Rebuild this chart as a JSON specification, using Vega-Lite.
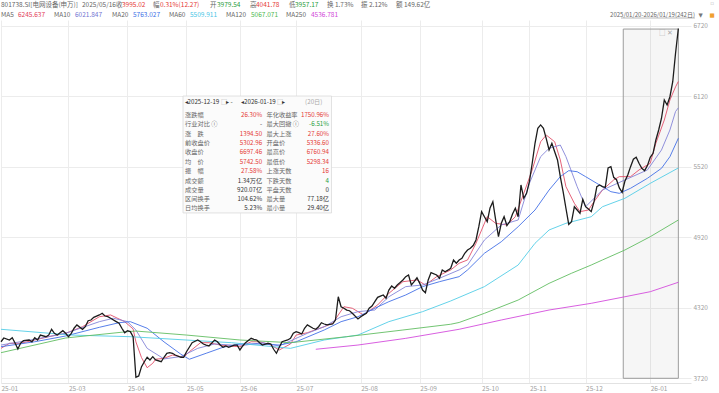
{
  "$schema": "https://vega.github.io/schema/vega-lite/v6.json",
  "width": 690,
  "height": 363,
  "autosize": {"type": "none"},
  "padding": {"left": 1, "top": 20, "right": 28, "bottom": 10},
  "background": "#ffffff",
  "config": {"view": {"stroke": null}, "font": "Noto Sans CJK SC"},
  "datasets": {
    "px": [
      {"d":0,"v":4031},{"d":1,"v":4063},{"d":3,"v":4046},{"d":4,"v":4065},{"d":5,"v":4020},{"d":6,"v":3969},{"d":7,"v":4020},{"d":8,"v":4040},{"d":10,"v":4046},{"d":11,"v":4031},{"d":12,"v":4065},{"d":13,"v":4046},{"d":14,"v":4088},{"d":16,"v":4074},{"d":17,"v":4088},{"d":18,"v":4137},{"d":19,"v":4103},{"d":20,"v":4088},{"d":22,"v":4125},{"d":23,"v":4103},{"d":24,"v":4074},{"d":25,"v":4103},{"d":26,"v":4146},{"d":27,"v":4174},{"d":29,"v":4137},{"d":30,"v":4159},{"d":31,"v":4210},{"d":32,"v":4216},{"d":33,"v":4239},{"d":35,"v":4259},{"d":36,"v":4273},{"d":37,"v":4250},{"d":38,"v":4244},{"d":39,"v":4231},{"d":41,"v":4202},{"d":42,"v":4188},{"d":43,"v":4146},{"d":44,"v":4108},{"d":45,"v":4125},{"d":46,"v":4117},{"d":47,"v":4074},{"d":48,"v":3729},{"d":49,"v":3740},{"d":50,"v":3819},{"d":51,"v":3861},{"d":52,"v":3899},{"d":53,"v":3876},{"d":54,"v":3904},{"d":55,"v":3876},{"d":57,"v":3861},{"d":58,"v":3899},{"d":59,"v":3933},{"d":60,"v":3938},{"d":61,"v":3933},{"d":62,"v":3918},{"d":64,"v":3899},{"d":65,"v":3899},{"d":66,"v":3946},{"d":67,"v":3984},{"d":68,"v":4023},{"d":70,"v":4046},{"d":71,"v":4031},{"d":72,"v":4012},{"d":73,"v":4003},{"d":74,"v":3995},{"d":76,"v":4046},{"d":77,"v":4031},{"d":78,"v":4003},{"d":79,"v":3984},{"d":80,"v":3995},{"d":81,"v":3984},{"d":83,"v":4003},{"d":84,"v":4003},{"d":85,"v":3961},{"d":86,"v":3995},{"d":87,"v":4023},{"d":89,"v":4060},{"d":90,"v":4052},{"d":91,"v":4046},{"d":92,"v":4023},{"d":93,"v":4003},{"d":95,"v":4018},{"d":96,"v":4012},{"d":97,"v":3967},{"d":98,"v":3933},{"d":99,"v":3984},{"d":100,"v":4031},{"d":102,"v":4046},{"d":103,"v":4060},{"d":104,"v":4103},{"d":105,"v":4117},{"d":106,"v":4108},{"d":107,"v":4097},{"d":108,"v":4146},{"d":109,"v":4174},{"d":111,"v":4146},{"d":112,"v":4137},{"d":113,"v":4159},{"d":114,"v":4193},{"d":115,"v":4182},{"d":116,"v":4174},{"d":118,"v":4182},{"d":119,"v":4216},{"d":120,"v":4414},{"d":121,"v":4329},{"d":122,"v":4316},{"d":123,"v":4301},{"d":124,"v":4295},{"d":125,"v":4273},{"d":127,"v":4225},{"d":128,"v":4244},{"d":129,"v":4260},{"d":130,"v":4273},{"d":131,"v":4316},{"d":132,"v":4335},{"d":133,"v":4372},{"d":134,"v":4409},{"d":135,"v":4420},{"d":136,"v":4429},{"d":137,"v":4401},{"d":138,"v":4471},{"d":139,"v":4505},{"d":140,"v":4486},{"d":141,"v":4514},{"d":142,"v":4535},{"d":143,"v":4557},{"d":144,"v":4585},{"d":145,"v":4599},{"d":146,"v":4514},{"d":147,"v":4542},{"d":148,"v":4575},{"d":149,"v":4528},{"d":150,"v":4471},{"d":151,"v":4448},{"d":152,"v":4557},{"d":153,"v":4620},{"d":155,"v":4599},{"d":156,"v":4571},{"d":157,"v":4642},{"d":158,"v":4627},{"d":159,"v":4640},{"d":160,"v":4656},{"d":161,"v":4727},{"d":162,"v":4699},{"d":163,"v":4727},{"d":164,"v":4741},{"d":165,"v":4784},{"d":166,"v":4812},{"d":167,"v":4826},{"d":168,"v":4850},{"d":169,"v":4897},{"d":170,"v":5010},{"d":171,"v":5138},{"d":172,"v":5095},{"d":173,"v":5053},{"d":174,"v":5170},{"d":175,"v":5223},{"d":176,"v":5068},{"d":177,"v":4925},{"d":178,"v":5039},{"d":179,"v":5095},{"d":180,"v":5020},{"d":181,"v":5053},{"d":182,"v":5118},{"d":183,"v":5167},{"d":184,"v":5095},{"d":185,"v":5365},{"d":186,"v":5252},{"d":187,"v":5294},{"d":188,"v":5393},{"d":189,"v":5550},{"d":190,"v":5720},{"d":191,"v":5848},{"d":192,"v":5876},{"d":193,"v":5848},{"d":194,"v":5760},{"d":195,"v":5663},{"d":196,"v":5720},{"d":197,"v":5648},{"d":198,"v":5578},{"d":199,"v":5436},{"d":200,"v":5308},{"d":201,"v":5167},{"d":202,"v":5030},{"d":203,"v":5053},{"d":204,"v":5180},{"d":205,"v":5152},{"d":206,"v":5124},{"d":207,"v":5243},{"d":208,"v":5180},{"d":209,"v":5160},{"d":210,"v":5138},{"d":211,"v":5223},{"d":212,"v":5351},{"d":213,"v":5365},{"d":214,"v":5351},{"d":215,"v":5345},{"d":216,"v":5510},{"d":217,"v":5521},{"d":218,"v":5430},{"d":219,"v":5410},{"d":220,"v":5340},{"d":221,"v":5303},{"d":222,"v":5400},{"d":223,"v":5450},{"d":224,"v":5521},{"d":225,"v":5584},{"d":226,"v":5601},{"d":227,"v":5550},{"d":228,"v":5507},{"d":229,"v":5487},{"d":230,"v":5530},{"d":231,"v":5600},{"d":232,"v":5635},{"d":233,"v":5748},{"d":234,"v":5833},{"d":235,"v":5933},{"d":236,"v":6088},{"d":237,"v":6046},{"d":238,"v":6116},{"d":239,"v":6244},{"d":240,"v":6486},{"d":241,"v":6697}
    ],
    "ma": [
      {"s":"MA5","d":0,"v":3975},{"s":"MA5","d":3,"v":4018},{"s":"MA5","d":7,"v":4018},{"s":"MA5","d":12,"v":4046},{"s":"MA5","d":17,"v":4074},{"s":"MA5","d":23,"v":4103},{"s":"MA5","d":29,"v":4159},{"s":"MA5","d":35,"v":4244},{"s":"MA5","d":39,"v":4259},{"s":"MA5","d":44,"v":4202},{"s":"MA5","d":47,"v":4140},{"s":"MA5","d":48,"v":4030},{"s":"MA5","d":50,"v":3896},{"s":"MA5","d":52,"v":3810},{"s":"MA5","d":54,"v":3848},{"s":"MA5","d":55,"v":3882},{"s":"MA5","d":58,"v":3890},{"s":"MA5","d":61,"v":3918},{"s":"MA5","d":65,"v":3899},{"s":"MA5","d":67,"v":3946},{"s":"MA5","d":71,"v":4023},{"s":"MA5","d":74,"v":4023},{"s":"MA5","d":78,"v":4003},{"s":"MA5","d":81,"v":3995},{"s":"MA5","d":85,"v":3989},{"s":"MA5","d":89,"v":4031},{"s":"MA5","d":92,"v":4031},{"s":"MA5","d":96,"v":4003},{"s":"MA5","d":99,"v":3961},{"s":"MA5","d":103,"v":4012},{"s":"MA5","d":105,"v":4088},{"s":"MA5","d":109,"v":4108},{"s":"MA5","d":115,"v":4159},{"s":"MA5","d":118,"v":4188},{"s":"MA5","d":122,"v":4329},{"s":"MA5","d":125,"v":4316},{"s":"MA5","d":129,"v":4259},{"s":"MA5","d":134,"v":4344},{"s":"MA5","d":138,"v":4443},{"s":"MA5","d":143,"v":4542},{"s":"MA5","d":148,"v":4557},{"s":"MA5","d":151,"v":4514},{"s":"MA5","d":155,"v":4585},{"s":"MA5","d":160,"v":4642},{"s":"MA5","d":163,"v":4699},{"s":"MA5","d":166,"v":4727},{"s":"MA5","d":169,"v":4869},{"s":"MA5","d":173,"v":5095},{"s":"MA5","d":176,"v":5039},{"s":"MA5","d":180,"v":5025},{"s":"MA5","d":183,"v":5095},{"s":"MA5","d":186,"v":5294},{"s":"MA5","d":189,"v":5493},{"s":"MA5","d":192,"v":5733},{"s":"MA5","d":194,"v":5790},{"s":"MA5","d":197,"v":5733},{"s":"MA5","d":199,"v":5578},{"s":"MA5","d":201,"v":5351},{"s":"MA5","d":204,"v":5209},{"s":"MA5","d":206,"v":5138},{"s":"MA5","d":209,"v":5152},{"s":"MA5","d":211,"v":5223},{"s":"MA5","d":214,"v":5322},{"s":"MA5","d":218,"v":5408},{"s":"MA5","d":220,"v":5436},{"s":"MA5","d":224,"v":5436},{"s":"MA5","d":227,"v":5493},{"s":"MA5","d":231,"v":5550},{"s":"MA5","d":233,"v":5720},{"s":"MA5","d":236,"v":5918},{"s":"MA5","d":238,"v":6088},{"s":"MA5","d":240,"v":6200},{"s":"MA5","d":241,"v":6246},
      {"s":"MA10","d":0,"v":4003},{"s":"MA10","d":12,"v":4052},{"s":"MA10","d":23,"v":4103},{"s":"MA10","d":35,"v":4202},{"s":"MA10","d":40,"v":4231},{"s":"MA10","d":45,"v":4202},{"s":"MA10","d":48,"v":4131},{"s":"MA10","d":52,"v":3975},{"s":"MA10","d":58,"v":3885},{"s":"MA10","d":64,"v":3905},{"s":"MA10","d":70,"v":3975},{"s":"MA10","d":76,"v":4012},{"s":"MA10","d":82,"v":4003},{"s":"MA10","d":87,"v":4003},{"s":"MA10","d":93,"v":4023},{"s":"MA10","d":99,"v":3995},{"s":"MA10","d":105,"v":4060},{"s":"MA10","d":109,"v":4103},{"s":"MA10","d":115,"v":4159},{"s":"MA10","d":121,"v":4244},{"s":"MA10","d":127,"v":4287},{"s":"MA10","d":133,"v":4301},{"s":"MA10","d":138,"v":4414},{"s":"MA10","d":144,"v":4500},{"s":"MA10","d":150,"v":4514},{"s":"MA10","d":156,"v":4571},{"s":"MA10","d":163,"v":4642},{"s":"MA10","d":166,"v":4684},{"s":"MA10","d":172,"v":4897},{"s":"MA10","d":178,"v":5025},{"s":"MA10","d":184,"v":5067},{"s":"MA10","d":188,"v":5379},{"s":"MA10","d":192,"v":5606},{"s":"MA10","d":195,"v":5677},{"s":"MA10","d":199,"v":5705},{"s":"MA10","d":201,"v":5606},{"s":"MA10","d":205,"v":5351},{"s":"MA10","d":208,"v":5180},{"s":"MA10","d":214,"v":5322},{"s":"MA10","d":222,"v":5408},{"s":"MA10","d":230,"v":5493},{"s":"MA10","d":235,"v":5663},{"s":"MA10","d":238,"v":5833},{"s":"MA10","d":240,"v":5990},{"s":"MA10","d":241,"v":6022},
      {"s":"MA20","d":0,"v":3989},{"s":"MA20","d":12,"v":4031},{"s":"MA20","d":23,"v":4080},{"s":"MA20","d":35,"v":4154},{"s":"MA20","d":42,"v":4193},{"s":"MA20","d":46,"v":4202},{"s":"MA20","d":52,"v":4146},{"s":"MA20","d":58,"v":4030},{"s":"MA20","d":64,"v":3925},{"s":"MA20","d":67,"v":3882},{"s":"MA20","d":73,"v":3933},{"s":"MA20","d":79,"v":3984},{"s":"MA20","d":85,"v":4012},{"s":"MA20","d":93,"v":4012},{"s":"MA20","d":99,"v":4003},{"s":"MA20","d":105,"v":4031},{"s":"MA20","d":115,"v":4131},{"s":"MA20","d":121,"v":4202},{"s":"MA20","d":127,"v":4244},{"s":"MA20","d":133,"v":4316},{"s":"MA20","d":138,"v":4372},{"s":"MA20","d":144,"v":4429},{"s":"MA20","d":150,"v":4500},{"s":"MA20","d":156,"v":4542},{"s":"MA20","d":163,"v":4585},{"s":"MA20","d":166,"v":4642},{"s":"MA20","d":172,"v":4784},{"s":"MA20","d":178,"v":4882},{"s":"MA20","d":184,"v":5010},{"s":"MA20","d":190,"v":5152},{"s":"MA20","d":195,"v":5322},{"s":"MA20","d":199,"v":5436},{"s":"MA20","d":202,"v":5487},{"s":"MA20","d":205,"v":5478},{"s":"MA20","d":208,"v":5436},{"s":"MA20","d":212,"v":5379},{"s":"MA20","d":217,"v":5308},{"s":"MA20","d":220,"v":5294},{"s":"MA20","d":224,"v":5337},{"s":"MA20","d":230,"v":5422},{"s":"MA20","d":235,"v":5507},{"s":"MA20","d":238,"v":5606},{"s":"MA20","d":241,"v":5763},
      {"s":"MA60","d":0,"v":4137},{"s":"MA60","d":25,"v":4088},{"s":"MA60","d":46,"v":4074},{"s":"MA60","d":82,"v":4023},{"s":"MA60","d":103,"v":3975},{"s":"MA60","d":115,"v":4046},{"s":"MA60","d":127,"v":4088},{"s":"MA60","d":138,"v":4202},{"s":"MA60","d":150,"v":4287},{"s":"MA60","d":160,"v":4378},{"s":"MA60","d":172,"v":4500},{"s":"MA60","d":184,"v":4684},{"s":"MA60","d":190,"v":4869},{"s":"MA60","d":195,"v":4982},{"s":"MA60","d":201,"v":5039},{"s":"MA60","d":210,"v":5095},{"s":"MA60","d":214,"v":5180},{"s":"MA60","d":222,"v":5252},{"s":"MA60","d":231,"v":5379},{"s":"MA60","d":241,"v":5510},
      {"s":"MA120","d":0,"v":3938},{"s":"MA120","d":23,"v":4063},{"s":"MA120","d":45,"v":4117},{"s":"MA120","d":48,"v":4122},{"s":"MA120","d":66,"v":4088},{"s":"MA120","d":85,"v":4046},{"s":"MA120","d":103,"v":4023},{"s":"MA120","d":123,"v":4074},{"s":"MA120","d":143,"v":4131},{"s":"MA120","d":160,"v":4180},{"s":"MA120","d":163,"v":4195},{"s":"MA120","d":172,"v":4273},{"s":"MA120","d":184,"v":4386},{"s":"MA120","d":195,"v":4528},{"s":"MA120","d":203,"v":4614},{"s":"MA120","d":210,"v":4684},{"s":"MA120","d":214,"v":4727},{"s":"MA120","d":222,"v":4812},{"s":"MA120","d":231,"v":4925},{"s":"MA120","d":241,"v":5067},
      {"s":"MA250","d":112,"v":3967},{"s":"MA250","d":127,"v":4003},{"s":"MA250","d":144,"v":4060},{"s":"MA250","d":163,"v":4137},{"s":"MA250","d":178,"v":4216},{"s":"MA250","d":195,"v":4301},{"s":"MA250","d":210,"v":4358},{"s":"MA250","d":222,"v":4414},{"s":"MA250","d":231,"v":4457},{"s":"MA250","d":241,"v":4537}
    ],
    "hdr": [
      {"d":0,"v":6897,"t":"801738.SI[电网设备(申万)]","k":"lab"},
      {"d":28.82,"v":6897,"t":"2025/05/16","k":"lab"},
      {"d":40.92,"v":6897,"t":"收","k":"lab"},
      {"d":43.05,"v":6897,"t":"3995.02","k":"red"},
      {"d":54.08,"v":6897,"t":"幅","k":"lab"},
      {"d":56.57,"v":6897,"t":"0.31%(12.27)","k":"red"},
      {"d":74.36,"v":6897,"t":"开","k":"lab"},
      {"d":76.85,"v":6897,"t":"3979.54","k":"grn"},
      {"d":88.59,"v":6897,"t":"高","k":"lab"},
      {"d":90.73,"v":6897,"t":"4041.78","k":"red"},
      {"d":102.47,"v":6897,"t":"低","k":"lab"},
      {"d":104.6,"v":6897,"t":"3957.17","k":"grn"},
      {"d":115.99,"v":6897,"t":"换 1.73%","k":"lab"},
      {"d":128.09,"v":6897,"t":"振 2.12%","k":"lab"},
      {"d":140.54,"v":6897,"t":"额 149.62亿","k":"lab"},
      {"d":0,"v":6812,"t":"MA5","k":"lab"},
      {"d":6.05,"v":6812,"t":"6245.637","k":"ma5"},
      {"d":18.86,"v":6812,"t":"MA10","k":"lab"},
      {"d":26.33,"v":6812,"t":"6021.847","k":"ma10"},
      {"d":39.49,"v":6812,"t":"MA20","k":"lab"},
      {"d":46.97,"v":6812,"t":"5763.027","k":"ma20"},
      {"d":59.77,"v":6812,"t":"MA60","k":"lab"},
      {"d":67.25,"v":6812,"t":"5509.911","k":"ma60"},
      {"d":80.05,"v":6812,"t":"MA120","k":"lab"},
      {"d":88.95,"v":6812,"t":"5067.071","k":"ma120"},
      {"d":101.4,"v":6812,"t":"MA250","k":"lab"},
      {"d":110.3,"v":6812,"t":"4536.781","k":"ma250"},
      {"d":234.1,"v":6658,"t":"□ ✕","k":"mute"}
    ],
    "tbl": [
      {"d":65.3,"v":6074,"t":"◂2025-12-19","k":"dark"},
      {"d":78.3,"v":6074,"t":"□","k":"mute"},
      {"d":80.1,"v":6074,"t":"▸  -","k":"dark"},
      {"d":85.4,"v":6074,"t":"◂2026-01-19","k":"dark"},
      {"d":98.2,"v":6074,"t":"□","k":"mute"},
      {"d":100.0,"v":6074,"t":"▸","k":"dark"},
      {"d":108.2,"v":6074,"t":"(20日)","k":"mute"},
      {"d":65.5,"v":5960.5,"t":"涨跌幅","k":"lab"},
      {"d":65.5,"v":5881.4,"t":"行业对比 ⓘ","k":"lab"},
      {"d":65.5,"v":5798.9,"t":"涨　跌","k":"lab"},
      {"d":65.5,"v":5719.7,"t":"前收盘价","k":"lab"},
      {"d":65.5,"v":5643.1,"t":"收盘价","k":"lab"},
      {"d":65.5,"v":5563.1,"t":"均　价","k":"lab"},
      {"d":65.5,"v":5484,"t":"振　幅","k":"lab"},
      {"d":65.5,"v":5401.4,"t":"成交额","k":"lab"},
      {"d":65.5,"v":5322.3,"t":"成交量","k":"lab"},
      {"d":65.5,"v":5243.2,"t":"区间换手","k":"lab"},
      {"d":65.5,"v":5166.6,"t":"日均换手","k":"lab"},
      {"d":94.5,"v":5960.5,"t":"年化收益率","k":"lab"},
      {"d":94.5,"v":5881.4,"t":"最大回撤 ⓘ","k":"lab"},
      {"d":94.5,"v":5798.9,"t":"最大上涨","k":"lab"},
      {"d":94.5,"v":5719.7,"t":"开盘价","k":"lab"},
      {"d":94.5,"v":5643.1,"t":"最高价","k":"lab"},
      {"d":94.5,"v":5563.1,"t":"最低价","k":"lab"},
      {"d":94.5,"v":5484,"t":"上涨天数","k":"lab"},
      {"d":94.5,"v":5401.4,"t":"下跌天数","k":"lab"},
      {"d":94.5,"v":5322.3,"t":"平盘天数","k":"lab"},
      {"d":94.5,"v":5243.2,"t":"最大量","k":"lab"},
      {"d":94.5,"v":5166.6,"t":"最小量","k":"lab"}
    ],
    "rt": [
      {"d":92.9,"v":5960.5,"t":"26.30%","k":"red"},
      {"d":92.9,"v":5881.4,"t":"-","k":"dark"},
      {"d":92.9,"v":5798.9,"t":"1394.50","k":"red"},
      {"d":92.9,"v":5719.7,"t":"5302.96","k":"red"},
      {"d":92.9,"v":5643.1,"t":"6697.46","k":"red"},
      {"d":92.9,"v":5563.1,"t":"5742.50","k":"red"},
      {"d":92.9,"v":5484,"t":"27.58%","k":"red"},
      {"d":92.9,"v":5401.4,"t":"1.34万亿","k":"dark"},
      {"d":92.9,"v":5322.3,"t":"920.07亿","k":"dark"},
      {"d":92.9,"v":5243.2,"t":"104.62%","k":"dark"},
      {"d":92.9,"v":5166.6,"t":"5.23%","k":"dark"},
      {"d":116.7,"v":5960.5,"t":"1750.96%","k":"red"},
      {"d":116.7,"v":5881.4,"t":"-6.51%","k":"grn"},
      {"d":116.7,"v":5798.9,"t":"27.60%","k":"red"},
      {"d":116.7,"v":5719.7,"t":"5336.60","k":"red"},
      {"d":116.7,"v":5643.1,"t":"6760.94","k":"red"},
      {"d":116.7,"v":5563.1,"t":"5298.34","k":"red"},
      {"d":116.7,"v":5484,"t":"16","k":"red"},
      {"d":116.7,"v":5401.4,"t":"4","k":"grn"},
      {"d":116.7,"v":5322.3,"t":"0","k":"dark"},
      {"d":116.7,"v":5243.2,"t":"77.18亿","k":"dark"},
      {"d":116.7,"v":5166.6,"t":"29.40亿","k":"dark"}
    ]
  },
  "layer": [
    {
      "data": {"values": [{"d1": 221.4, "d2": 241, "v1": 3720, "v2": 6692}]},
      "mark": {"type": "rect", "fill": "#000000", "fillOpacity": 0.035, "stroke": "#9c9c9c", "strokeWidth": 1},
      "encoding": {
        "x": {"field": "d1", "type": "quantitative", "title": null,
          "scale": {"domain": [0, 245.5], "nice": false, "zero": false},
          "axis": {"orient": "bottom", "values": [0,24,45,66,85,105,128,149,171,188,208,231],
            "labelExpr": "['25-01','25-03','25-04','25-05','25-06','25-07','25-08','25-09','25-10','25-11','25-12','26-01'][indexof([0,24,45,66,85,105,128,149,171,188,208,231], datum.value)]",
            "grid": true, "gridColor": "#ececec", "gridWidth": 1, "ticks": false, "domain": true, "domainColor": "#e2e2e2",
            "labelAlign": "left", "labelPadding": 2, "labelFontSize": 6.5, "labelColor": "#a0a0a0", "labelOverlap": false, "labelFlush": false, "labelFont": "Noto Sans CJK SC"}},
        "x2": {"field": "d2"},
        "y": {"field": "v1", "type": "quantitative", "title": null,
          "scale": {"domain": [3680, 6769], "nice": false, "zero": false},
          "axis": {"orient": "right", "values": [3720,4320,4920,5520,6120,6720], "format": "d",
            "grid": true, "gridColor": "#ececec", "gridWidth": 1, "ticks": false, "domain": false,
            "labelAlign": "left", "labelBaseline": "middle", "labelPadding": 2, "labelFontSize": 6.5, "labelColor": "#a0a0a0", "labelFont": "Noto Sans CJK SC", "labelFlush": false}},
        "y2": {"field": "v2"}
      }
    },
    {
      "data": {"values": [{"d1": 64.76, "d2": 117.6, "v1": 5127, "v2": 6122}]},
      "mark": {"type": "rect", "fill": "#fbfbfb", "stroke": "#d9d9d9", "strokeWidth": 0.8},
      "encoding": {
        "x": {"field": "d1", "type": "quantitative", "title": null, "scale": {"domain": [0, 245.5], "nice": false, "zero": false}},
        "x2": {"field": "d2"},
        "y": {"field": "v1", "type": "quantitative", "title": null, "scale": {"domain": [3680, 6769], "nice": false, "zero": false}},
        "y2": {"field": "v2"}
      }
    },
    {
      "data": {"name": "ma"},
      "mark": {"type": "line", "strokeWidth": 0.9},
      "encoding": {
        "x": {"field": "d", "type": "quantitative", "title": null, "scale": {"domain": [0, 245.5], "nice": false, "zero": false}},
        "y": {"field": "v", "type": "quantitative", "title": null, "scale": {"domain": [3680, 6769], "nice": false, "zero": false}},
        "color": {"field": "s", "type": "nominal", "legend": null,
          "scale": {"domain": ["MA5","MA10","MA20","MA60","MA120","MA250"], "range": ["#e2506a","#8585d8","#4470e6","#52cde6","#62bd62","#d44ddc"]}}
      }
    },
    {
      "data": {"name": "px"},
      "mark": {"type": "line", "strokeWidth": 1.3, "color": "#1c1c1c"},
      "encoding": {
        "x": {"field": "d", "type": "quantitative", "title": null, "scale": {"domain": [0, 245.5], "nice": false, "zero": false}},
        "y": {"field": "v", "type": "quantitative", "title": null, "scale": {"domain": [3680, 6769], "nice": false, "zero": false}}
      }
    },
    {
      "data": {"values": [{"d1": 220.6, "d2": 246.9, "v": 6786}]},
      "mark": {"type": "rule", "stroke": "#8a8a8a", "strokeWidth": 0.6},
      "encoding": {
        "x": {"field": "d1", "type": "quantitative", "title": null, "scale": {"domain": [0, 245.5], "nice": false, "zero": false}},
        "x2": {"field": "d2"},
        "y": {"field": "v", "type": "quantitative", "title": null, "scale": {"domain": [3680, 6769], "nice": false, "zero": false}}
      }
    },
    {
      "data": {"name": "hdr"},
      "mark": {"type": "text", "align": "left", "baseline": "middle", "fontSize": 6.5, "font": "Noto Sans CJK SC"},
      "encoding": {
        "x": {"field": "d", "type": "quantitative", "title": null, "scale": {"domain": [0, 245.5], "nice": false, "zero": false}},
        "y": {"field": "v", "type": "quantitative", "title": null, "scale": {"domain": [3680, 6769], "nice": false, "zero": false}},
        "text": {"field": "t"},
        "color": {"field": "k", "type": "nominal", "legend": null,
          "scale": {"domain": ["lab","dark","red","grn","mute","ma5","ma10","ma20","ma60","ma120","ma250"],
            "range": ["#666666","#333333","#e53935","#1f9d3a","#aaaaaa","#e2405a","#7474d2","#3d6fe6","#49c6e6","#4fb84f","#d048d8"]}}
      }
    },
    {
      "data": {"name": "tbl"},
      "mark": {"type": "text", "align": "left", "baseline": "middle", "fontSize": 6.2, "font": "Noto Sans CJK SC"},
      "encoding": {
        "x": {"field": "d", "type": "quantitative", "title": null, "scale": {"domain": [0, 245.5], "nice": false, "zero": false}},
        "y": {"field": "v", "type": "quantitative", "title": null, "scale": {"domain": [3680, 6769], "nice": false, "zero": false}},
        "text": {"field": "t"},
        "color": {"field": "k", "type": "nominal", "legend": null,
          "scale": {"domain": ["lab","dark","mute"], "range": ["#666666","#333333","#aaaaaa"]}}
      }
    },
    {
      "data": {"name": "rt"},
      "mark": {"type": "text", "align": "right", "baseline": "middle", "fontSize": 6.2, "font": "Noto Sans CJK SC"},
      "encoding": {
        "x": {"field": "d", "type": "quantitative", "title": null, "scale": {"domain": [0, 245.5], "nice": false, "zero": false}},
        "y": {"field": "v", "type": "quantitative", "title": null, "scale": {"domain": [3680, 6769], "nice": false, "zero": false}},
        "text": {"field": "t"},
        "color": {"field": "k", "type": "nominal", "legend": null,
          "scale": {"domain": ["dark","red","grn"], "range": ["#333333","#e53935","#1f9d3a"]}}
      }
    },
    {
      "data": {"values": [{"d": 246.9, "v": 6812, "t": "2025/01/20-2026/01/19(242日)"}]},
      "mark": {"type": "text", "align": "right", "baseline": "middle", "fontSize": 6, "font": "Noto Sans CJK SC", "color": "#666666"},
      "encoding": {
        "x": {"field": "d", "type": "quantitative", "title": null, "scale": {"domain": [0, 245.5], "nice": false, "zero": false}},
        "y": {"field": "v", "type": "quantitative", "title": null, "scale": {"domain": [3680, 6769], "nice": false, "zero": false}},
        "text": {"field": "t"}
      }
    },
    {
      "data": {"values": [{"d": 248.9, "v": 6812, "t": "▼", "k": "tri"}, {"d": 252.97, "v": 6812, "t": "■", "k": "lock"}, {"d": 252.97, "v": 6914, "t": "▫", "k": "icon"}]},
      "mark": {"type": "text", "align": "center", "baseline": "middle", "fontSize": 5.5, "font": "DejaVu Sans"},
      "encoding": {
        "x": {"field": "d", "type": "quantitative", "title": null, "scale": {"domain": [0, 245.5], "nice": false, "zero": false}},
        "y": {"field": "v", "type": "quantitative", "title": null, "scale": {"domain": [3680, 6769], "nice": false, "zero": false}},
        "text": {"field": "t"},
        "color": {"field": "k", "type": "nominal", "legend": null,
          "scale": {"domain": ["tri","lock","icon"], "range": ["#777777","#f0a030","#bbbbbb"]}}
      }
    }
  ],
  "resolve": {"scale": {"color": "independent"}}
}
